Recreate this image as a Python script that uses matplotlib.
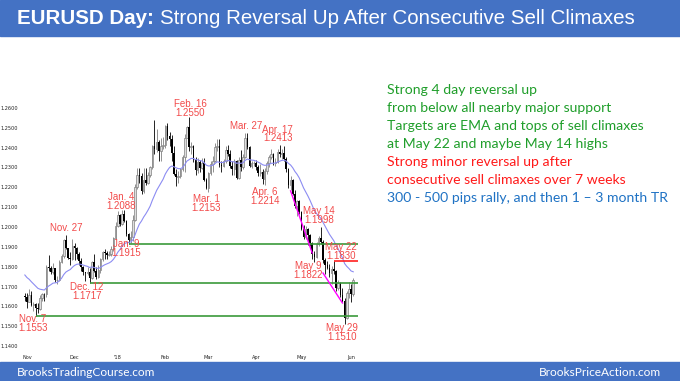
import matplotlib
matplotlib.use("Agg")
import matplotlib.pyplot as plt
from matplotlib.patches import Rectangle
import numpy as np
import pandas as pd

# trading days shown on the chart (no bars on Christmas / New Year)
holidays = ["2017-12-25", "2018-01-01"]
dates = pd.bdate_range("2017-10-31", "2018-06-04")
dates = dates[~dates.isin(pd.to_datetime(holidays))]

opens = [1.1650,
         1.1645, 1.1620, 1.1655, 1.1609, 1.1610, 1.1594, 1.1589, 1.1641, 1.1664, 1.1663, 1.1796,
         1.1791, 1.1772, 1.1791, 1.1735, 1.1735, 1.1824, 1.1853, 1.1934, 1.1895, 1.1845, 1.1840,
         1.1905, 1.1896, 1.1865, 1.1827, 1.1797, 1.1772, 1.1770, 1.1775, 1.1741, 1.1825, 1.1777,
         1.1750, 1.1785, 1.1840, 1.1873, 1.1870, 1.1858, 1.1863, 1.1890, 1.1945,
         1.2005, 1.2058, 1.2015, 1.2068, 1.2030, 1.1967, 1.1936, 1.1950, 1.2034, 1.2200, 1.2264,
         1.2255, 1.2180, 1.2239, 1.2220, 1.2260, 1.2301, 1.2408, 1.2395, 1.2426, 1.2383, 1.2406,
         1.2415, 1.2510, 1.2460, 1.2445, 1.2375, 1.2265, 1.2250, 1.2255, 1.2290, 1.2355, 1.2450,
         1.2505, 1.2405, 1.2410, 1.2340, 1.2285, 1.2330, 1.2295, 1.2320, 1.2235,
         1.2195, 1.2270, 1.2315, 1.2335, 1.2405, 1.2410, 1.2310, 1.2305, 1.2335, 1.2390, 1.2370,
         1.2305, 1.2290, 1.2335, 1.2245, 1.2340, 1.2300, 1.2355, 1.2450, 1.2405, 1.2305, 1.2320,
         1.2325, 1.2300, 1.2270, 1.2275, 1.2240, 1.2280, 1.2320, 1.2355, 1.2370, 1.2325, 1.2330,
         1.2380, 1.2370, 1.2375, 1.2345, 1.2290, 1.2210, 1.2235, 1.2165, 1.2105, 1.2130,
         1.2075, 1.1990, 1.1950, 1.1990, 1.1960, 1.1920, 1.1865, 1.1850, 1.1915, 1.1945, 1.1925,
         1.1835, 1.1810, 1.1795, 1.1770, 1.1790, 1.1780, 1.1695, 1.1720, 1.1655, 1.1625, 1.1540,
         1.1665, 1.1690, 1.1660]
highs = [1.1668,
         1.1669, 1.1688, 1.1677, 1.1623, 1.1617, 1.1616, 1.1658, 1.1669, 1.1668, 1.1807, 1.1861,
         1.1803, 1.1821, 1.1792, 1.1752, 1.1835, 1.1862, 1.1939, 1.1961, 1.1896, 1.1874, 1.1940,
         1.1920, 1.1898, 1.1872, 1.1842, 1.1805, 1.1775, 1.1800, 1.1793, 1.1830, 1.1862, 1.1796,
         1.1810, 1.1846, 1.1880, 1.1889, 1.1879, 1.1880, 1.1903, 1.1950, 1.2023,
         1.2081, 1.2065, 1.2088, 1.2085, 1.2036, 1.1972, 1.1980, 1.2058, 1.2219, 1.2297, 1.2296,
         1.2274, 1.2295, 1.2296, 1.2278, 1.2309, 1.2415, 1.2537, 1.2493, 1.2438, 1.2447, 1.2455,
         1.2515, 1.2522, 1.2480, 1.2465, 1.2410, 1.2294, 1.2280, 1.2298, 1.2365, 1.2470, 1.2510,
         1.2555, 1.2426, 1.2415, 1.2355, 1.2350, 1.2336, 1.2350, 1.2350, 1.2245,
         1.2275, 1.2335, 1.2360, 1.2425, 1.2445, 1.2445, 1.2335, 1.2345, 1.2410, 1.2413, 1.2390,
         1.2335, 1.2345, 1.2340, 1.2355, 1.2390, 1.2370, 1.2475, 1.2476, 1.2410, 1.2335, 1.2335,
         1.2340, 1.2310, 1.2315, 1.2290, 1.2295, 1.2335, 1.2365, 1.2395, 1.2375, 1.2350, 1.2395,
         1.2413, 1.2395, 1.2410, 1.2355, 1.2295, 1.2255, 1.2240, 1.2185, 1.2135, 1.2135,
         1.2080, 1.2010, 1.2005, 1.1995, 1.1965, 1.1925, 1.1880, 1.1925, 1.1955, 1.1998, 1.1935,
         1.1845, 1.1830, 1.1815, 1.1805, 1.1830, 1.1785, 1.1735, 1.1725, 1.1695, 1.1640, 1.1675,
         1.1725, 1.1715, 1.1745]
lows = [1.1627,
        1.1594, 1.1620, 1.1603, 1.1576, 1.1553, 1.1567, 1.1580, 1.1625, 1.1626, 1.1648, 1.1776,
        1.1761, 1.1765, 1.1722, 1.1713, 1.1726, 1.1820, 1.1846, 1.1888, 1.1837, 1.1806, 1.1834,
        1.1832, 1.1841, 1.1808, 1.1780, 1.1760, 1.1730, 1.1758, 1.1717, 1.1737, 1.1771, 1.1738,
        1.1745, 1.1770, 1.1830, 1.1841, 1.1837, 1.1852, 1.1853, 1.1880, 1.1940,
        1.2000, 1.2003, 1.2008, 1.2023, 1.1954, 1.1915, 1.1918, 1.1928, 1.2030, 1.2190, 1.2220,
        1.2165, 1.2173, 1.2214, 1.2215, 1.2250, 1.2290, 1.2369, 1.2378, 1.2335, 1.2335, 1.2392,
        1.2400, 1.2440, 1.2410, 1.2335, 1.2260, 1.2206, 1.2220, 1.2246, 1.2280, 1.2276, 1.2447,
        1.2385, 1.2370, 1.2330, 1.2260, 1.2270, 1.2275, 1.2290, 1.2230, 1.2190,
        1.2175, 1.2260, 1.2275, 1.2330, 1.2385, 1.2300, 1.2275, 1.2300, 1.2320, 1.2360, 1.2295,
        1.2260, 1.2260, 1.2240, 1.2240, 1.2280, 1.2290, 1.2350, 1.2395, 1.2300, 1.2295, 1.2305,
        1.2285, 1.2255, 1.2255, 1.2215, 1.2214, 1.2265, 1.2300, 1.2345, 1.2310, 1.2305, 1.2320,
        1.2355, 1.2345, 1.2335, 1.2275, 1.2195, 1.2185, 1.2160, 1.2095, 1.2055, 1.2065,
        1.1985, 1.1940, 1.1940, 1.1910, 1.1905, 1.1840, 1.1822, 1.1845, 1.1905, 1.1915, 1.1820,
        1.1765, 1.1790, 1.1750, 1.1715, 1.1765, 1.1675, 1.1680, 1.1645, 1.1620, 1.1510, 1.1535,
        1.1640, 1.1620, 1.1650]
closes = [1.1645,
          1.1620, 1.1655, 1.1609, 1.1610, 1.1594, 1.1589, 1.1641, 1.1664, 1.1663, 1.1796, 1.1791,
          1.1772, 1.1791, 1.1735, 1.1735, 1.1824, 1.1853, 1.1934, 1.1895, 1.1845, 1.1840, 1.1905,
          1.1896, 1.1865, 1.1827, 1.1797, 1.1772, 1.1770, 1.1775, 1.1741, 1.1825, 1.1777, 1.1750,
          1.1785, 1.1840, 1.1873, 1.1870, 1.1858, 1.1863, 1.1890, 1.1945, 1.2005,
          1.2058, 1.2015, 1.2068, 1.2030, 1.1967, 1.1936, 1.1950, 1.2034, 1.2200, 1.2264, 1.2255,
          1.2180, 1.2239, 1.2220, 1.2260, 1.2301, 1.2408, 1.2395, 1.2426, 1.2383, 1.2406, 1.2415,
          1.2510, 1.2460, 1.2445, 1.2375, 1.2265, 1.2250, 1.2255, 1.2290, 1.2355, 1.2450, 1.2505,
          1.2405, 1.2410, 1.2340, 1.2285, 1.2330, 1.2295, 1.2320, 1.2235, 1.2195,
          1.2270, 1.2315, 1.2335, 1.2405, 1.2410, 1.2310, 1.2305, 1.2335, 1.2390, 1.2370, 1.2305,
          1.2290, 1.2335, 1.2245, 1.2340, 1.2300, 1.2355, 1.2450, 1.2405, 1.2305, 1.2320, 1.2325,
          1.2300, 1.2270, 1.2275, 1.2240, 1.2280, 1.2320, 1.2355, 1.2370, 1.2325, 1.2330, 1.2380,
          1.2370, 1.2375, 1.2345, 1.2290, 1.2210, 1.2235, 1.2165, 1.2105, 1.2130, 1.2075,
          1.1990, 1.1950, 1.1990, 1.1960, 1.1920, 1.1865, 1.1850, 1.1915, 1.1945, 1.1925, 1.1835,
          1.1810, 1.1795, 1.1770, 1.1790, 1.1780, 1.1695, 1.1720, 1.1655, 1.1625, 1.1540, 1.1665,
          1.1690, 1.1660, 1.1735]
ema_seed = 1.1770  # 20 EMA value before the first bar

# swing labels
swing_dates = ["2017-11-07", "2017-11-27", "2017-12-12", "2018-01-04", "2018-01-09",
               "2018-02-16", "2018-03-01", "2018-03-27", "2018-04-06", "2018-04-17",
               "2018-05-09", "2018-05-14", "2018-05-22", "2018-05-29"]
swing_names = ["Nov. 7", "Nov. 27", "Dec. 12", "Jan. 4", "Jan. 9", "Feb. 16", "Mar. 1",
               "Mar. 27", "Apr. 6", "Apr. 17", "May 9", "May 14", "May 22", "May 29"]
swing_values = ["1.1553", "", "1.1717", "1.2088", "1.1915", "1.2550", "1.2153",
                "", "1.2214", "1.2413", "1.1822", "1.1998", "1.1830", "1.1510"]
swing_is_high = [False, True, False, True, False, True, False, True, False, True,
                 False, True, True, False]
swing_offsets = [(-3, -8), (0, 7), (-3, -8), (-1, 8), (-2, -5), (1, 8.5), (-2, -11),
                 (-1, 6.5), (0, -12), (-2, 11), (-6, -8), (-2, 11.5), (7, 9), (-3, -8.5)]

support_dates = ["2018-01-09", "2017-12-12", "2017-11-07"]
support_prices = [1.1915, 1.1717, 1.1553]
resist_date = "2018-05-22"
resist_price = 1.1830

wedge1_dates = ["2018-04-24", "2018-05-08"]
wedge1_prices = [1.2182, 1.1869]
wedge2_dates = ["2018-05-15", "2018-05-28"]
wedge2_prices = [1.1768, 1.1617]

month_ticks = ["2017-11-01", "2017-12-01", "2018-01-02", "2018-02-01", "2018-03-01",
               "2018-04-02", "2018-05-01", "2018-06-01"]
month_labels = ["Nov", "Dec", "'18", "Feb", "Mar", "Apr", "May", "Jun"]

notes = ["Strong 4 day reversal up",
         "from below all nearby major support",
         "Targets are EMA and tops of sell climaxes",
         "at May 22 and maybe May 14 highs",
         "Strong minor reversal up after",
         "consecutive sell climaxes over 7 weeks",
         "300 - 500 pips rally, and then 1 \u2013 3 month TR"]
note_colors = ["#1f9e2a"] * 4 + ["#ff1a1a"] * 2 + ["#1f72c4"]

BLUE = "#4472c4"
RED_LBL = "#f24a4a"
NARROW = ["Liberation Sans Narrow", "Liberation Sans", "DejaVu Sans"]

o = np.array(opens)
h = np.array(highs)
l = np.array(lows)
c = np.array(closes)
x = np.arange(len(dates))
pos = {d: i for i, d in enumerate(dates)}
def xi(d):
    return pos[pd.Timestamp(d)]

ema = pd.Series([ema_seed] + closes).ewm(span=20, adjust=False).mean().values[1:]

W, H = 680, 381
fig = plt.figure(figsize=(W / 100, H / 100), dpi=100)
fig.patches.append(Rectangle((0, 1 - 36 / H), 1, 36 / H, transform=fig.transFigure,
                             color=BLUE, zorder=0))
fig.patches.append(Rectangle((0, 0), 1, 19 / H, transform=fig.transFigure,
                             color=BLUE, zorder=0))

ax = fig.add_axes([21 / W, (H - 352) / H, 337 / W, 302 / H])
ax.set_xlim(-1.78, 154.2)
ax.set_ylim(1.137, 1.2892)
for s in ax.spines.values():
    s.set_visible(False)

up = c >= o
dn = ~up
ax.vlines(x[up], l[up], h[up], color="#808080", lw=0.6, zorder=2)
ax.vlines(x[dn], l[dn], h[dn], color="black", lw=0.6, zorder=2)
ax.bar(x[up], (c - o)[up], bottom=o[up], width=0.72, facecolor="#dedede",
       edgecolor="#808080", lw=0.5, zorder=3)
ax.bar(x[dn], (c - o)[dn], bottom=o[dn], width=0.72, color="black", lw=0, zorder=3)
ax.plot(x, ema, color="#8c8cf2", lw=0.8, zorder=4)

xmax = ax.get_xlim()[1]
for d, p in zip(support_dates, support_prices):
    ax.hlines(p, xi(d), xmax, color="#3b9a3b", lw=1.2, zorder=5)
ax.hlines(resist_price, xi(resist_date), xmax, color="#ff2020", lw=1.2, zorder=5)
ax.plot([xi(d) for d in wedge1_dates], wedge1_prices, color="#ff00ff", lw=1, zorder=5)
ax.plot([xi(d) for d in wedge2_dates], wedge2_prices, color="#ff00ff", lw=1, zorder=5)

for d, name, val, hi, off in zip(swing_dates, swing_names, swing_values, swing_is_high,
                                 swing_offsets):
    i = xi(d)
    y = h[i] if hi else l[i]
    txt = name if not val else name + "\n" + val
    ax.annotate(txt, (i, y), xytext=off, textcoords="offset pixels", ha="center",
                va="center", color=RED_LBL, fontsize=7, family=NARROW,
                linespacing=0.85, zorder=6)

ax.set_yticks(np.arange(1.14, 1.2601, 0.01))
ax.set_yticklabels([f"{v:.4f}" for v in np.arange(1.14, 1.2601, 0.01)])
ax.set_xticks([xi(d) for d in month_ticks])
ax.set_xticklabels(month_labels)
ax.tick_params(length=0, labelsize=3.6, pad=2.2, colors="#222222")

fig.text(17 / W, 1 - 24 / H, "EURUSD Day:", color="white", fontsize=14.8,
         fontweight="bold", family=["Liberation Sans", "DejaVu Sans"], va="baseline")
fig.text(160 / W, 1 - 24 / H, "Strong Reversal Up After Consecutive Sell Climaxes",
         color="white", fontsize=14.8, family=["Liberation Sans", "DejaVu Sans"],
         va="baseline")

for k, (t, col) in enumerate(zip(notes, note_colors)):
    fig.text(387 / W, 1 - (94 + 18 * k) / H, t, color=col, fontsize=10.1,
             family=["Lato", "DejaVu Sans"], va="baseline")

fig.text(17 / W, 1 - 376 / H, "BrooksTradingCourse.com", color="white", fontsize=8.6,
         family=["Lato", "DejaVu Sans"], va="baseline")
fig.text(661 / W, 1 - 376 / H, "BrooksPriceAction.com", color="white", fontsize=8.6,
         family=["Lato", "DejaVu Sans"], va="baseline", ha="right")

fig.savefig("out.png", dpi=100)
